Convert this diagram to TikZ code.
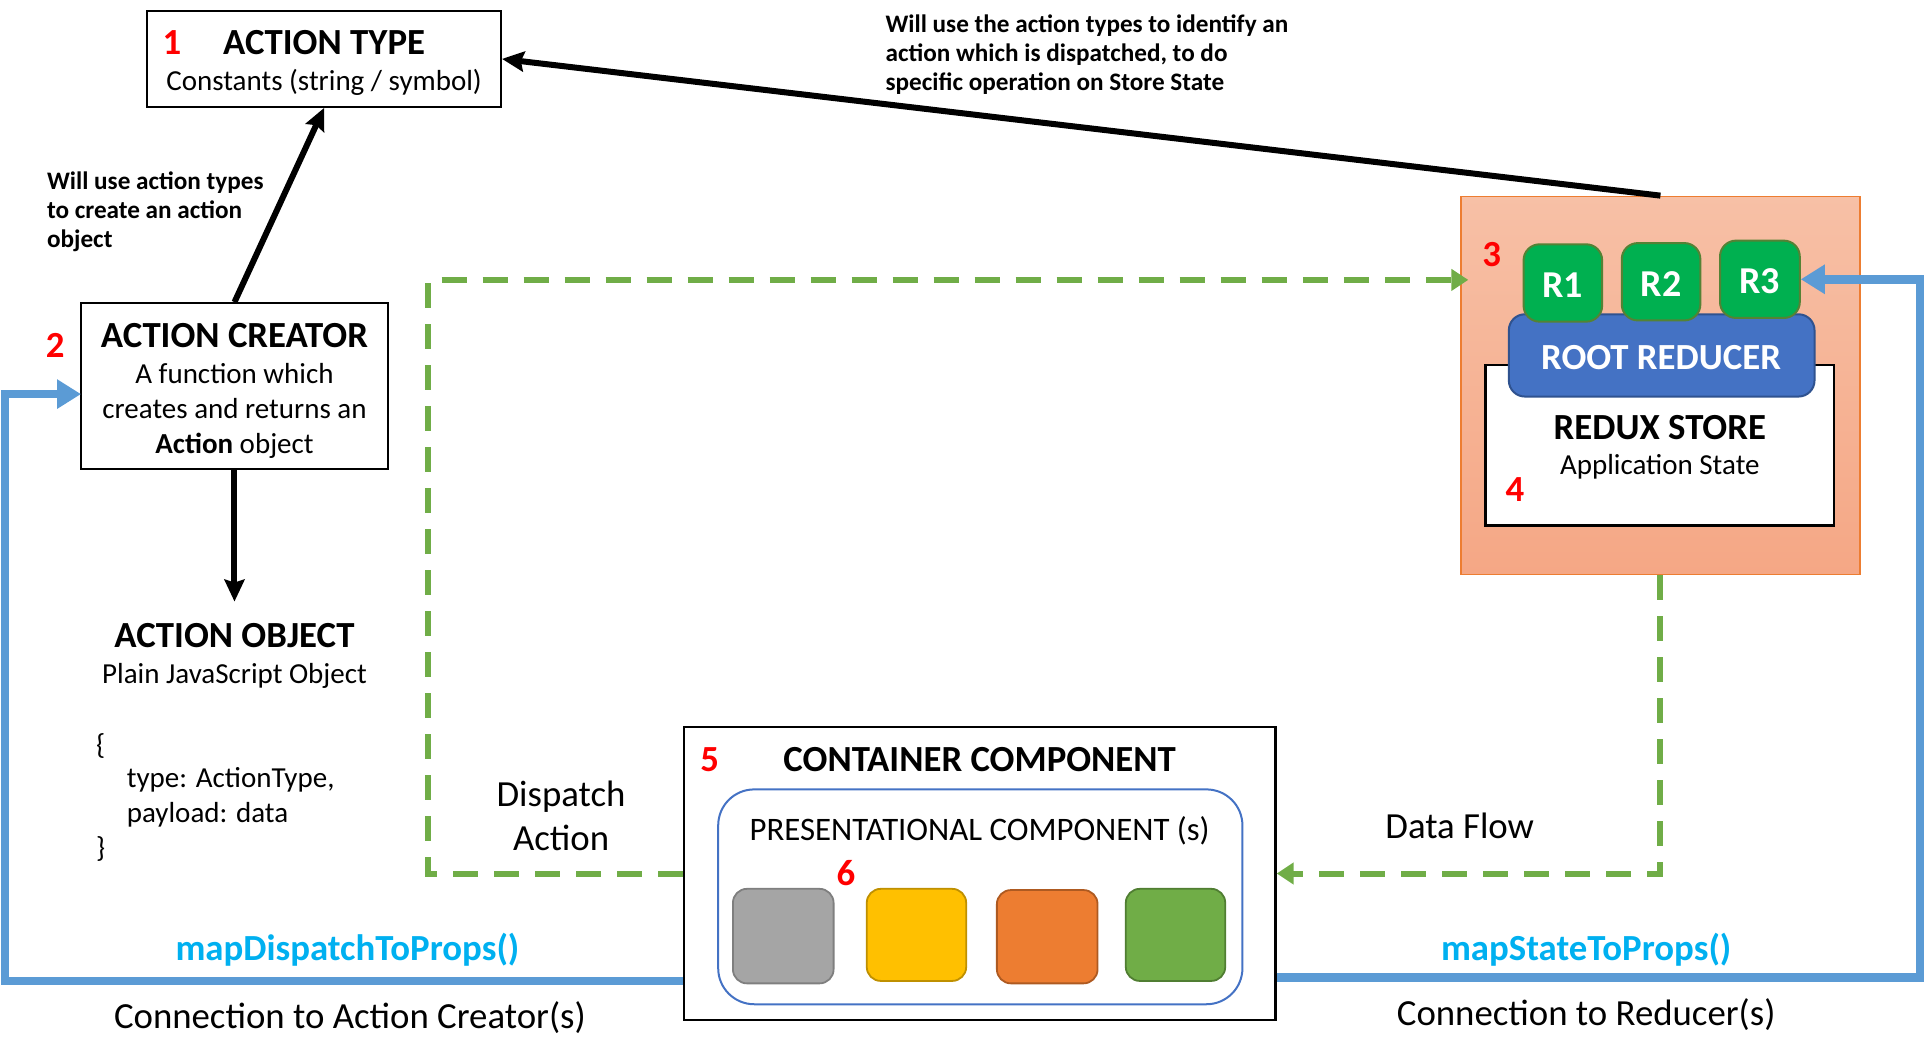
\documentclass[tikz,border=0pt]{standalone}
\usepackage{fontspec}
\setmainfont{Carlito}
\usetikzlibrary{arrows.meta,fit,calc}
\definecolor{grn}{RGB}{112,173,71}
\definecolor{blu}{RGB}{91,155,213}
\definecolor{cyanT}{RGB}{0,176,240}
\definecolor{rgreen}{RGB}{0,176,80}
\definecolor{rgreenB}{RGB}{84,130,53}
\definecolor{rootB}{RGB}{68,114,196}
\definecolor{rootBB}{RGB}{47,82,143}
\definecolor{orB}{RGB}{237,125,49}
\definecolor{orTop}{RGB}{247,192,166}
\definecolor{orBot}{RGB}{245,167,133}
\definecolor{sqGray}{RGB}{165,165,165}
\definecolor{sqGrayB}{RGB}{127,127,127}
\definecolor{sqYel}{RGB}{255,192,0}
\definecolor{sqYelB}{RGB}{191,144,0}
\definecolor{sqOr}{RGB}{237,125,49}
\definecolor{sqOrB}{RGB}{174,90,33}
\definecolor{sqGrn}{RGB}{112,173,71}
\definecolor{sqGrnB}{RGB}{80,126,50}
\newcommand\FBig{\fontsize{18.4}{22}\selectfont}
\newcommand\FMid{\fontsize{14.5}{17.6}\selectfont}
\newcommand\FSm{\fontsize{12.6}{14.7}\selectfont}
\newcommand\FPres{\fontsize{16.4}{19.5}\selectfont}
\begin{document}
\begin{tikzpicture}[x=0.6138pt,y=-0.6138pt,
  txt/.style={inner sep=0pt,yshift=-0.9pt},
  box/.style={draw=black,line width=1.1pt,inner sep=0pt},
  num/.style={txt,text=red,font=\FBig\bfseries},
  ttl/.style={txt,font=\FBig\bfseries},
  sub/.style={txt,font=\FMid},
  note/.style={txt,font=\FSm\bfseries,align=left,anchor=west},
  blk/.style={line width=3pt,-{Stealth[length=11pt,width=10pt,inset=1.5pt]}},
  gdash/.style={draw=grn,line width=3pt,dash pattern=on 12.5pt off 8pt,-{Triangle[length=8.5pt,width=10.5pt]}},
  bl/.style={draw=blu,line width=4.3pt,-{Triangle[length=12pt,width=14pt]}},
  rbox/.style={draw=rgreenB,fill=rgreen,line width=1pt,rounded corners=8pt,inner sep=0pt},
  rtxt/.style={txt,text=white,font=\fontsize{19}{22}\selectfont\bfseries},
  sq/.style={line width=0.9pt,rounded corners=7pt,inner sep=0pt}
]
\useasboundingbox (0,0) rectangle (1568,864);

% ---------- ACTION TYPE ----------
\node[box,fit={(120,9)(408,87)}] (at) {};
\node[num] (n1) at (140,33) {1};
\node[ttl] (atT) at (264,33) {ACTION TYPE};
\node[sub] (atS) at (264,66) {Constants (string / symbol)};

% ---------- ACTION CREATOR ----------
\node[box,fit={(66,247)(316,382)}] (ac) {};
\node[num] (n2) at (45,280) {2};
\node[ttl] (acT) at (191,272) {ACTION CREATOR};
\node[sub,align=center,font=\fontsize{14.5}{17.5}\selectfont] (acS) at (191,333)
  {A function which\\creates and returns an\\\textbf{Action} object};

\node[note] (lab1) at (38,171) {Will use action types\\to create an action\\object};
\draw[blk] (ac.north) -- (at.south);

% ---------- ACTION OBJECT ----------
\node[ttl] (ao) at (191,516) {ACTION OBJECT};
\node[sub] (aoS) at (191,549) {Plain JavaScript Object};
\coordinate (aoTop) at (191,490);
\draw[blk] (ac.south) -- (aoTop);
\node[sub,anchor=west] (c1) at (78,606) {\{};
\node[sub,anchor=west] (c2) at (103,634) {type: ActionType,};
\node[sub,anchor=west] (c3) at (103,662) {payload: data};
\node[sub,anchor=west] (c4) at (78,690) {\}};

% ---------- REDUX STORE ----------
\node[draw=orB,line width=0.8pt,top color=orTop,bottom color=orBot,inner sep=0pt,
      fit={(1190,160)(1515,468)}] (store) {};
\node[box,fill=white,fit={(1210,297)(1494,428)}] (rs) {};
\node[draw=rootBB,fill=rootB,line width=1pt,rounded corners=8pt,inner sep=0pt,
      fit={(1229,256)(1478,323)}] (rr) {};
\node[rtxt,font=\FBig\bfseries] (rrT) at (1353,290) {ROOT REDUCER};
\node[rbox,fit={(1241,199)(1305,262)}] (r1) {};
\node[rbox,fit={(1321,198)(1385,261)}] (r2) {};
\node[rbox,fit={(1401,196)(1466,259)}] (r3) {};
\node[rtxt] at (r1.center) {R1};
\node[rtxt] at (r2.center) {R2};
\node[rtxt] at (r3.center) {R3};
\node[num] (n3) at (1215,206) {3};
\node[ttl] (rsT) at (1352,347) {REDUX STORE};
\node[sub] (rsS) at (1352,379) {Application State};
\node[num] (n4) at (1234,397) {4};

% big arrow to ACTION TYPE
\draw[blk] (store.north) -- (at.east);
\node[note] (lab2) at (721,43) {Will use the action types to identify an\\action which is dispatched, to do\\specific operation on Store State};

% ---------- CONTAINER ----------
\node[box,fit={(557,592)(1039,831)}] (cc) {};
\node[num] (n5) at (578,617) {5};
\node[ttl] (ccT) at (798,617) {CONTAINER COMPONENT};
\node[draw=rootB,line width=1pt,rounded corners=18pt,inner sep=0pt,fit={(585,643)(1012,818)}] (pc) {};
\node[txt,font=\FPres] (pcT) at (798,675) {PRESENTATIONAL COMPONENT (s)};
\node[num] (n6) at (689,710) {6};
\node[sq,draw=sqGrayB,fill=sqGray,fit={(597,724)(679,801)}] (s1) {};
\node[sq,draw=sqYelB,fill=sqYel,fit={(706,724)(787,799)}] (s2) {};
\node[sq,draw=sqOrB,fill=sqOr,fit={(812,725)(894,801)}] (s3) {};
\node[sq,draw=sqGrnB,fill=sqGrn,fit={(917,724)(998,799)}] (s4) {};

% ---------- green dashed flows ----------
\coordinate (gC) at (349,228);
\coordinate (gT) at (1196,228);
\draw[gdash] (cc.west) -| (gC) -- (gT);
\draw[gdash] (store.south) |- (cc.east);
\node[txt,font=\FBig,align=center] (disp) at (457,663) {Dispatch\\Action};
\node[txt,font=\FBig] (df) at (1189,671) {Data Flow};

% ---------- blue connections ----------
\coordinate (bL) at (4,799);
\coordinate (bA) at (66,321);
\draw[bl] (cc.west |- bL) -- (bL) |- (bA);
\coordinate (bR) at (1564,796);
\draw[bl] (cc.east |- bR) -- (bR) |- (r3.east);
\node[txt,font=\FBig\bfseries,text=cyanT] (mdp) at (283,772) {mapDispatchToProps()};
\node[txt,font=\FBig] (cac) at (285,827) {Connection to Action Creator(s)};
\node[txt,font=\FBig\bfseries,text=cyanT] (msp) at (1292,772) {mapStateToProps()};
\node[txt,font=\FBig] (cre) at (1292,825) {Connection to Reducer(s)};
\end{tikzpicture}
\end{document}
